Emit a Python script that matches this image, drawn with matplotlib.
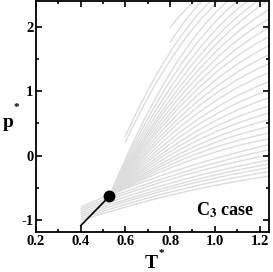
import matplotlib
matplotlib.use("Agg")
import matplotlib.pyplot as plt
from matplotlib.path import Path
from matplotlib.patches import PathPatch
from matplotlib.ticker import MultipleLocator

plt.rcParams['font.family'] = ['Liberation Serif', 'DejaVu Serif']
plt.rcParams['font.weight'] = 'bold'
plt.rcParams['mathtext.fontset'] = 'stix'

# gray curves: start, middle and end point of each one (T*, p*)
t_start = [0.80, 0.80, 0.598, 0.598,
           0.528, 0.528, 0.528, 0.528, 0.528,
           0.528, 0.528, 0.528, 0.528, 0.528, 0.528, 0.528, 0.528, 0.528,
           0.528, 0.528, 0.528, 0.528, 0.528, 0.528, 0.528, 0.528,
           0.40, 0.40, 0.40, 0.40, 0.40, 0.40, 0.40, 0.40]
p_start = [1.99, 1.76, 0.29, 0.20,
           -0.635, -0.635, -0.635, -0.635, -0.635,
           -0.635, -0.635, -0.635, -0.635, -0.635, -0.635, -0.635, -0.635, -0.635,
           -0.635, -0.635, -0.635, -0.635, -0.635, -0.635, -0.635, -0.635,
           -0.80, -0.83, -0.86, -0.89, -0.92, -0.95, -0.98, -1.01]
t_mid = [0.855, 0.872, 0.789, 0.807,
         0.792, 0.814, 0.837, 0.859, 0.881,
         0.885, 0.885, 0.885, 0.885, 0.885, 0.885, 0.885, 0.885, 0.885,
         0.885, 0.885, 0.885, 0.885, 0.885, 0.885, 0.885, 0.885,
         0.821, 0.821, 0.821, 0.821, 0.821, 0.821, 0.821, 0.821]
p_mid = [2.22, 2.12, 1.55, 1.52,
         1.24, 1.24, 1.24, 1.24, 1.24,
         1.17, 1.08, 0.99, 0.91, 0.82, 0.73, 0.65, 0.56, 0.47,
         0.39, 0.31, 0.24, 0.17, 0.10, 0.04, -0.02, -0.08,
         -0.24, -0.30, -0.35, -0.41, -0.46, -0.50, -0.55, -0.60]
t_end = [0.911, 0.943, 0.979, 1.015,
         1.055, 1.100, 1.145, 1.190, 1.234,
         1.242, 1.242, 1.242, 1.242, 1.242, 1.242, 1.242, 1.242, 1.242,
         1.242, 1.242, 1.242, 1.242, 1.242, 1.242, 1.242, 1.242,
         1.242, 1.242, 1.242, 1.242, 1.242, 1.242, 1.242, 1.242]
p_end = [2.4, 2.4, 2.4, 2.4,
         2.4, 2.4, 2.4, 2.4, 2.4,
         2.27, 2.13, 1.99, 1.85, 1.71, 1.57, 1.43, 1.29, 1.15,
         1.02, 0.90, 0.77, 0.66, 0.56, 0.45, 0.35, 0.26,
         0.17, 0.09, 0.01, -0.07, -0.13, -0.19, -0.25, -0.32]

# coexistence line and critical point
coex_T = [0.40, 0.528]
coex_p = [-1.09, -0.635]
crit_T = 0.528
crit_p = -0.635

fig = plt.figure(figsize=(2.73, 2.72), dpi=100)
ax = fig.add_axes([0.132, 0.147, 0.853, 0.848])

# smooth curve through start, mid, end (quadratic bezier)
for i in range(len(t_start)):
    ct = 2 * t_mid[i] - 0.5 * (t_start[i] + t_end[i])
    cp = 2 * p_mid[i] - 0.5 * (p_start[i] + p_end[i])
    path = Path([(t_start[i], p_start[i]), (ct, cp), (t_end[i], p_end[i])],
                [Path.MOVETO, Path.CURVE3, Path.CURVE3])
    ax.add_patch(PathPatch(path, facecolor='none', edgecolor='#dcdcdc', lw=1.0,
                           capstyle='butt'))

ax.plot(coex_T, coex_p, color='black', lw=1.2)
ax.plot(crit_T, crit_p, 'o', color='black', markersize=7.5)

ax.set_xlim(0.2, 1.242)
ax.set_ylim(-1.19, 2.4)
ax.xaxis.set_minor_locator(MultipleLocator(0.1))
ax.yaxis.set_minor_locator(MultipleLocator(0.5))
ax.set_xticks([0.2, 0.4, 0.6, 0.8, 1.0, 1.2])
ax.set_xticklabels(['0.2', '0.4', '0.6', '0.8', '1.0', '1.2'])
ax.set_yticks([-1, 0, 1, 2])
ax.set_yticklabels(['-1', '0', '1', '2'])

ax.tick_params(which='both', direction='in', top=True, right=True, width=1.2,
               labelsize=10.5)
ax.tick_params(which='major', length=4.5, pad=2)
ax.tick_params(which='minor', length=2.5)
for s in ax.spines.values():
    s.set_linewidth(1.3)

fig.text(0.03, 0.55, 'p', fontsize=14, fontweight='bold', ha='center', va='center')
fig.text(0.06, 0.605, '*', fontsize=8, fontweight='bold', ha='center', va='center')
fig.text(0.555, 0.032, 'T', fontsize=14, fontweight='bold', ha='center', va='center')
fig.text(0.592, 0.068, '*', fontsize=8, fontweight='bold', ha='center', va='center')

ax.text(1.175, -0.85, r'C$_{\mathbf{3}}$ case', fontsize=13, fontweight='bold',
        ha='right', va='center')

fig.savefig('out.png', dpi=100)
